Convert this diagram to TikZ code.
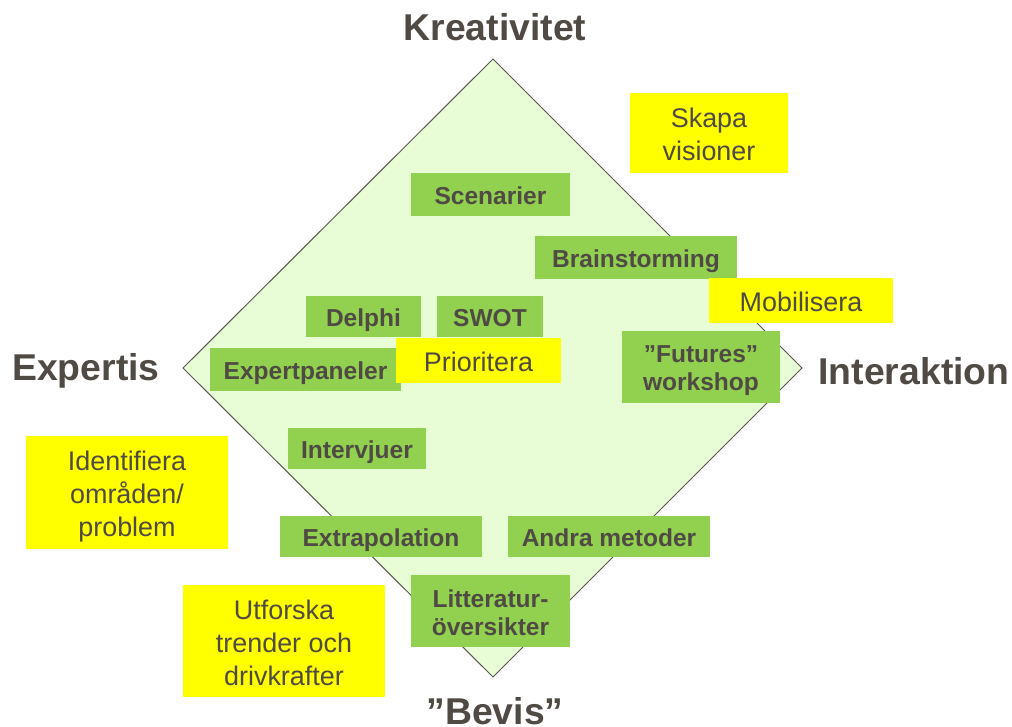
\documentclass[tikz,border=0pt]{standalone}
\usepackage{fontspec}
\setmainfont{Liberation Sans}
\definecolor{txt}{HTML}{4F4A44}
\definecolor{dfill}{HTML}{E8FCD6}
\definecolor{dline}{HTML}{5A5650}
\definecolor{gbox}{HTML}{92D050}
\definecolor{ybox}{HTML}{FFFF00}
\begin{document}
\begin{tikzpicture}[x=0.75pt,y=-0.75pt,
  axis/.style={text=txt,font=\fontsize{28}{32}\selectfont\bfseries,inner sep=0pt},
  sz/.style 2 args={minimum width=#1*0.75pt,minimum height=#2*0.75pt},
  td/.style 2 args={text height=#1*0.75pt,text depth=#2*0.75pt},
  gbx/.style={fill=gbox,text=txt,inner sep=0pt,align=center,td={19}{0},
    font=\fontsize{18.4}{21}\selectfont\bfseries},
  ybx/.style={fill=ybox,text=txt,inner sep=0pt,align=center,td={22}{0},
    font=\fontsize{20.2}{24.75}\selectfont},
  dia/.style={fill=dfill,draw=dline,line width=0.75pt}]
\useasboundingbox (0,0) rectangle (1012,726);
% diamond
\coordinate (dt) at (493,59);
\coordinate (dr) at (802,368);
\coordinate (db) at (493,677);
\coordinate (dl) at (183,368);
\draw[dia] (dt) -- (dr) -- (db) -- (dl) -- cycle;
% axis labels
\node[axis] (kre) at (495,27) {Kreativitet};
\node[axis] (exp) at (86,371) {Expertis};
\node[axis] (int) at (914,371) {Interaktion};
\node[axis] (bev) at (495,711) {\char"201D Bevis\char"201D};
% green boxes
\node[gbx,sz={159}{43}] (sce) at (490.5,194.5) {Scenarier};
\node[gbx,sz={202}{43}] (bra) at (636,257.5) {Brainstorming};
\node[gbx,sz={115}{41}] (del) at (363.5,316.5) {Delphi};
\node[gbx,sz={106}{41}] (swo) at (490,316.5) {SWOT};
\node[gbx,sz={191}{43}] (epa) at (305.5,369.5) {Expertpaneler};
\node[gbx,sz={158}{72},td={59}{13}] (fut) at (701,367) {\char"201D Futures\char"201D\\workshop};
\node[gbx,sz={138}{41}] (ivj) at (357,448.5) {Intervjuer};
\node[gbx,sz={202}{41}] (ext) at (381,536.5) {Extrapolation};
\node[gbx,sz={202}{41}] (and) at (609,536.5) {Andra metoder};
\node[gbx,sz={159}{72},td={60}{12}] (lit) at (490.5,611) {Litteratur-\\översikter};
% yellow boxes
\node[ybx,sz={165}{45}] (pri) at (478.5,360.5) {Prioritera};
\node[ybx,sz={184}{45}] (mob) at (801,300.5) {Mobilisera};
\node[ybx,sz={158}{80},td={67}{13}] (ska) at (709,133) {Skapa\\visioner};
\node[ybx,sz={202}{113},td={100.7}{12.3}] (ide) at (127,492.5) {Identifiera\\områden/\\problem};
\node[ybx,sz={202}{112},td={100}{12}] (utf) at (284,641) {Utforska\\trender och\\drivkrafter};
\end{tikzpicture}
\end{document}
